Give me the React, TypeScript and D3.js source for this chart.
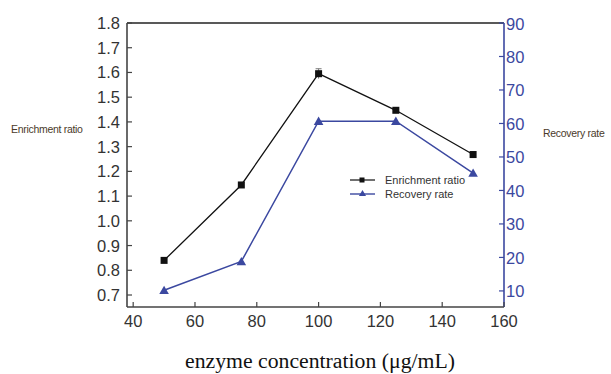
import React from "react";
import * as d3 from "d3";

const concentrations = [50, 75, 100, 125, 150];
const enrichmentRatio = [0.84, 1.145, 1.595, 1.447, 1.268];
const enrichmentErr = [0.01, 0.01, 0.02, 0.01, 0.012];
const recoveryRate = [10.2, 18.8, 60.7, 60.7, 45.2];
const xTicks = [40, 60, 80, 100, 120, 140, 160];
const leftTicks = [0.7, 0.8, 0.9, 1.0, 1.1, 1.2, 1.3, 1.4, 1.5, 1.6, 1.7, 1.8];
const rightTicks = [10, 20, 30, 40, 50, 60, 70, 80, 90];

const W = 611, H = 374;
const L = 127, R = 504, T = 23, B = 307;
const BLUE = "#3b48a0";
const GRAY = "#333";

export default function App() {
  const x = d3.scaleLinear().domain([38, 160]).range([L, R]);
  const yL = d3.scaleLinear().domain([0.6515, 1.8]).range([B, T]);
  const yR = d3.scaleLinear().domain([5.2, 90]).range([B, T]);
  const lineE = d3.line<number>().x((_, i) => x(concentrations[i])).y((d) => yL(d));
  const lineR = d3.line<number>().x((_, i) => x(concentrations[i])).y((d) => yR(d));
  const tri = d3.symbol().type(d3.symbolTriangle).size(40)();
  const font = "Arial, 'Liberation Sans', sans-serif";
  return (
    <svg width={W} height={H} style={{ position: "absolute", left: 0, top: 0, background: "#fff" }}>
      {/* frame */}
      <line x1={L} y1={T} x2={R} y2={T} stroke="#222" strokeWidth={1.6} />
      <line x1={L} y1={T} x2={L} y2={B} stroke="#444" strokeWidth={1.6} />
      <line x1={L} y1={B} x2={R} y2={B} stroke="#444" strokeWidth={1.6} />
      <line x1={R} y1={T} x2={R} y2={B} stroke={BLUE} strokeWidth={1.6} />
      {/* x ticks */}
      {xTicks.map((t) => (
        <g key={"x" + t}>
          <line x1={x(t)} x2={x(t)} y1={B} y2={B - 5} stroke="#444" strokeWidth={1.2} />
          <text x={x(t)} y={B + 20} textAnchor="middle" fontFamily={font} fontSize={16.5} fill={GRAY}>{t}</text>
        </g>
      ))}
      {leftTicks.map((t) => (
        <g key={"l" + t}>
          <line x1={L} x2={L + 5} y1={yL(t)} y2={yL(t)} stroke="#444" strokeWidth={1.2} />
          <text x={L - 7} y={yL(t) + 6} textAnchor="end" fontFamily={font} fontSize={16.5} fill={GRAY}>{t.toFixed(1)}</text>
        </g>
      ))}
      {rightTicks.map((t) => (
        <g key={"r" + t}>
          <line x1={R} x2={R - 5} y1={yR(t)} y2={yR(t)} stroke={BLUE} strokeWidth={1.2} />
          <text x={R + 2} y={yR(t) + 6.5} textAnchor="start" fontFamily={font} fontSize={16.5} fill={BLUE}>{t}</text>
        </g>
      ))}
      {/* series */}
      <path d={lineE(enrichmentRatio) || ""} fill="none" stroke="#111" strokeWidth={1.3} />
      <path d={lineR(recoveryRate) || ""} fill="none" stroke={BLUE} strokeWidth={1.5} />
      {enrichmentRatio.map((v, i) => (
        <g key={"e" + i}>
          <line x1={x(concentrations[i])} x2={x(concentrations[i])} y1={yL(v + enrichmentErr[i])} y2={yL(v - enrichmentErr[i])} stroke="#777" strokeWidth={1} />
          <line x1={x(concentrations[i]) - 3} x2={x(concentrations[i]) + 3} y1={yL(v + enrichmentErr[i])} y2={yL(v + enrichmentErr[i])} stroke="#777" strokeWidth={1} />
          <rect x={x(concentrations[i]) - 3.5} y={yL(v) - 3.5} width={7} height={7} fill="#111" />
        </g>
      ))}
      {recoveryRate.map((v, i) => (
        <path key={"r" + i} d={tri || ""} transform={`translate(${x(concentrations[i])},${yR(v) + 1})`} fill={BLUE} />
      ))}
      {/* legend */}
      <line x1={350} x2={375} y1={180} y2={180} stroke="#111" strokeWidth={1.2} />
      <rect x={359.5} y={177.5} width={5} height={5} fill="#111" />
      <text x={385} y={184} fontFamily={font} fontSize={11} fill={GRAY}>Enrichment ratio</text>
      <line x1={350} x2={375} y1={194} y2={194} stroke={BLUE} strokeWidth={1.4} />
      <path d={d3.symbol().type(d3.symbolTriangle).size(22)() || ""} transform="translate(362.5,194)" fill={BLUE} />
      <text x={385} y={198} fontFamily={font} fontSize={11} fill={GRAY}>Recovery rate</text>
      {/* axis titles */}
      <text x={11} y={133} fontFamily={font} fontSize={10.5} fill="#4a3a2a" letterSpacing={-0.3}>Enrichment ratio</text>
      <text x={543} y={137} fontFamily={font} fontSize={10.5} fill="#4a3a2a" letterSpacing={-0.3}>Recovery rate</text>
      <text x={185} y={368} textLength={270} lengthAdjust="spacingAndGlyphs" fontFamily="'Liberation Serif', 'Times New Roman', serif" fontSize={20} fill="#111">enzyme concentration (μg/mL)</text>
    </svg>
  );
}
